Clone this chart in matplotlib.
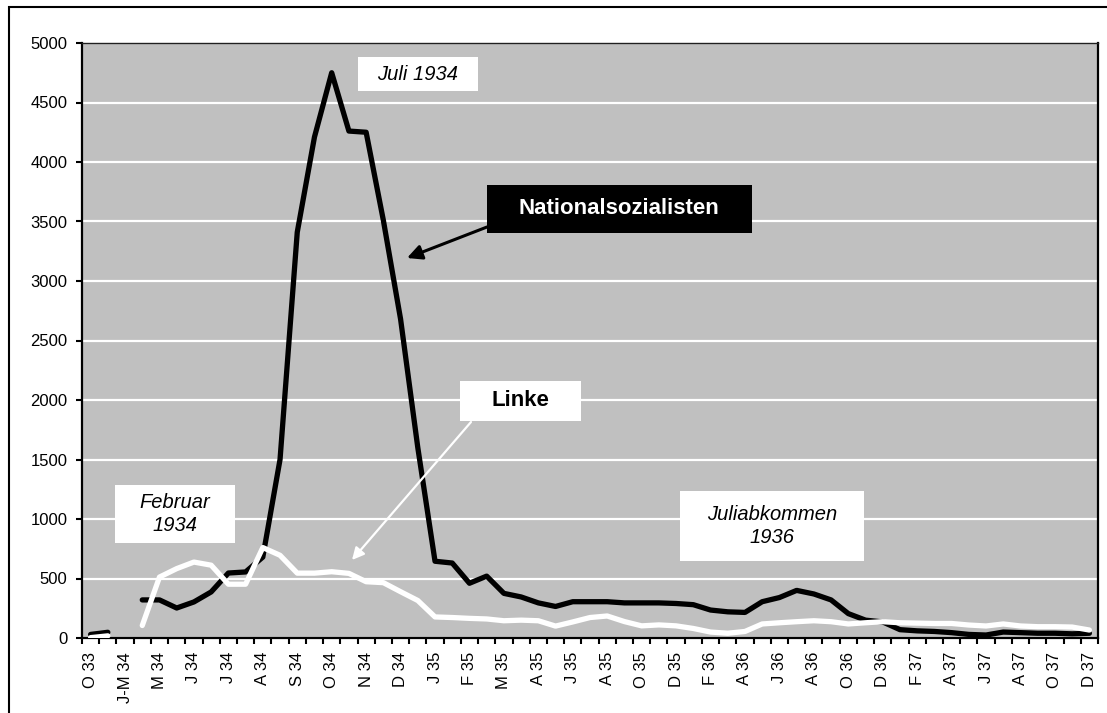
import numpy as np
import matplotlib.pyplot as plt
from matplotlib.patches import Rectangle

plt.rcParams['font.family'] = ['Liberation Sans', 'DejaVu Sans']

# every second category carries a label
month_labels = ["O 33", "J-M 34", "M 34", "J 34", "J 34", "A 34", "S 34", "O 34",
                "N 34", "D 34", "J 35", "F 35", "M 35", "A 35", "J 35", "A 35",
                "O 35", "D 35", "F 36", "A 36", "J 36", "A 36", "O 36", "D 36",
                "F 37", "A 37", "J 37", "A 37", "O 37", "D 37"]

nan = np.nan
nazi = [30, 48, nan, 320, 320, 252, 303, 387, 546, 555, 680, 1500, 3410, 4210,
        4750, 4260, 4250, 3510, 2680, 1600, 645, 630, 460, 520, 375, 345, 295,
        265, 305, 305, 305, 295, 295, 295, 290, 280, 235, 220, 215, 305, 340,
        400, 370, 320, 205, 150, 135, 70, 60, 55, 45, 30, 25, 50, 45, 40, 40,
        35, 40]
linke = [3, 18, nan, 105, 512, 583, 638, 612, 452, 452, 760, 695, 545, 545, 557,
         543, 473, 465, 389, 315, 177, 172, 165, 160, 145, 150, 145, 100, 135,
         172, 185, 138, 102, 110, 102, 80, 50, 40, 55, 118, 128, 137, 145, 137,
         118, 128, 137, 128, 125, 122, 122, 109, 101, 118, 101, 95, 95, 92, 67]

W, H = 1107, 713


def fx(px):
    return px / W


def fy(py):
    return 1 - py / H


fig = plt.figure(figsize=(W / 100, H / 100), dpi=100)
ax = fig.add_axes([fx(82), fy(638), fx(1098) - fx(82), fy(43) - fy(638)])
ax.set_facecolor('#c0c0c0')

x = np.arange(len(nazi))
ax.plot(x, nazi, color='black', lw=3.8, solid_joinstyle='round',
        solid_capstyle='round', zorder=3)
ax.plot(x, linke, color='white', lw=3.8, solid_joinstyle='round',
        solid_capstyle='round', zorder=4)

ax.set_xlim(-0.5, len(nazi) - 0.5)
ax.set_ylim(0, 5000)
ax.set_yticks(np.arange(0, 5001, 500))
ax.yaxis.grid(True, color='white', lw=1.6)
ax.set_axisbelow(True)
ax.tick_params(axis='y', direction='out', length=4.5, width=1.5, pad=6,
               labelsize=12, colors='black')

# tick marks between categories, labels centred on the categories
ax.set_xticks(np.arange(-0.5, len(nazi), 1))
ax.set_xticklabels([])
ax.set_xticks(np.arange(0, len(nazi), 2), minor=True)
ax.set_xticklabels(month_labels, minor=True, rotation=90, fontsize=12)
ax.tick_params(axis='x', which='major', direction='out', length=4.5, width=1.5)
ax.tick_params(axis='x', which='minor', length=0, pad=10)

for side in ['left', 'bottom', 'right']:
    ax.spines[side].set_linewidth(1.6)
    ax.spines[side].set_color('black')
ax.spines['top'].set_linewidth(1.0)
ax.spines['top'].set_color('#202020')


def box(x0, y0, x1, y1, color):
    fig.add_artist(Rectangle((fx(x0), fy(y1)), fx(x1) - fx(x0), fy(y0) - fy(y1),
                             transform=fig.transFigure, fc=color, ec='none',
                             zorder=5))


box(358, 57, 478, 91, 'white')
fig.text(fx(418), fy(74), "Juli 1934", style='italic', fontsize=14.5,
         ha='center', va='center', zorder=6)

box(487, 185, 752, 233, 'black')
fig.text(fx(619), fy(209), "Nationalsozialisten", weight='bold', fontsize=16,
         color='white', ha='center', va='center', zorder=6)

box(460, 381, 581, 421, 'white')
fig.text(fx(520), fy(401), "Linke", weight='bold', fontsize=16,
         ha='center', va='center', zorder=6)

box(115, 485, 235, 543, 'white')
fig.text(fx(175), fy(514), "Februar\n1934", style='italic', fontsize=14.5,
         ha='center', va='center', linespacing=1.25, zorder=6)

box(680, 491, 864, 561, 'white')
fig.text(fx(772), fy(526), "Juliabkommen\n1936", style='italic', fontsize=14.5,
         ha='center', va='center', linespacing=1.25, zorder=6)

ax.annotate("", xy=(fx(407), fy(258)), xycoords='figure fraction',
            xytext=(fx(487), fy(227)), textcoords='figure fraction',
            arrowprops=dict(arrowstyle='-|>', color='black', lw=2.2,
                            mutation_scale=22, shrinkA=0, shrinkB=0),
            zorder=6)
ax.annotate("", xy=(fx(352), fy(560)), xycoords='figure fraction',
            xytext=(fx(471), fy(422)), textcoords='figure fraction',
            arrowprops=dict(arrowstyle='-|>', color='white', lw=1.6,
                            mutation_scale=18, shrinkA=0, shrinkB=0),
            zorder=6)

# outer frame
fig.add_artist(Rectangle((fx(9), -0.05), 1.2, fy(7) + 0.05, fill=False,
                         ec='black', lw=1.5, transform=fig.transFigure))

fig.savefig('out.png', dpi=100)
